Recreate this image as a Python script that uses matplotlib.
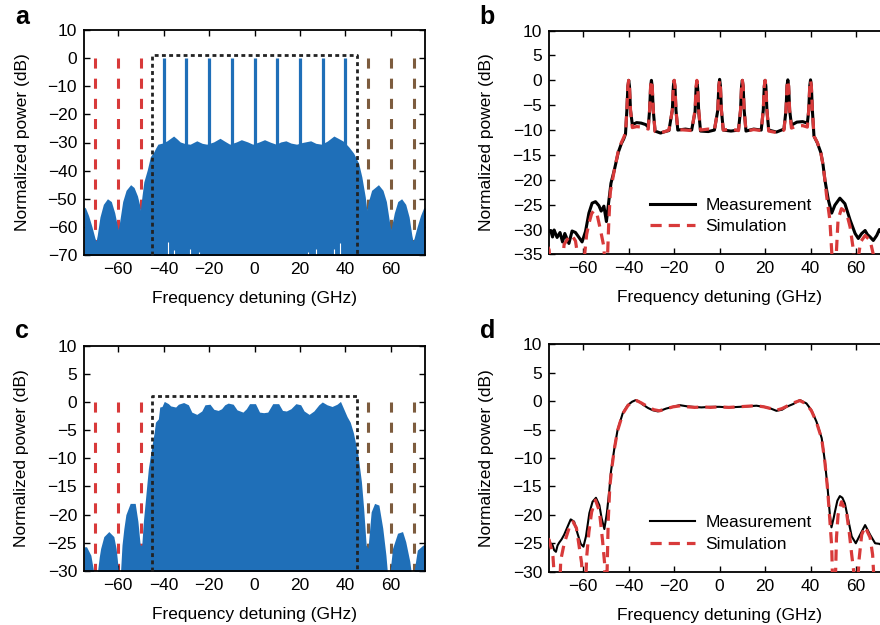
import numpy as np
import matplotlib
matplotlib.use("Agg")
import matplotlib.pyplot as plt

plt.rcParams["font.family"] = ["Liberation Sans", "DejaVu Sans"]
plt.rcParams["font.size"] = 12.5

# ---- panel a: spectrum envelope (GHz, dB) ----
a_freq = [-75, -74.5, -73, -71.5, -70.2, -69.7, -69.2, -68, -66.5, -64.7, -63, -61.5,
          -60.5, -60, -59.5, -58, -56.5, -54.5, -53, -51.5, -50.6, -50.2, -49.5, -48.7,
          -47.2, -45.8, -44.3, -43.5, -42.5, -40.5, -38.5, -35.6, -34, -32.7, -30.5,
          -28.3, -25.4, -23, -21, -18, -15.2, -13, -10.9, -8, -5.8, -3, -0.8, 2, 4.4,
          7, 9.5, 11.5, 13.8, 16, 18.5, 21, 24.7, 27, 29.5, 32, 34.9, 37, 39, 41.4,
          43.6, 45.8, 47.2, 48.7, 49.4, 50.1, 51.5, 53, 54.5, 56.5, 58, 59.5, 60, 60.5,
          61.5, 63, 64.7, 66.5, 68, 69.2, 69.7, 70.2, 71.5, 73, 74.5, 75]
a_env = [-53.5, -53, -56, -60, -64, -65, -63, -56.5, -52, -50, -51, -55,
         -59, -61, -59, -51, -47, -45, -46, -49, -52, -54, -49, -44,
         -39.8, -35, -33.3, -32, -30.6, -30.2, -29.4, -27.7, -28.8, -29.8, -30.4,
         -30.6, -29.4, -30.3, -30.6, -29.8, -28.5, -29.6, -30.6, -29.8, -29, -29.8, -30.6, -29.8, -29,
         -29.9, -30.6, -29.8, -29.4, -30.2, -30.6, -30, -29.4, -30.3, -30.6, -29.5, -27.7, -28.6, -29.5, -31.5,
         -33.8, -37.4, -42.2, -49.3, -54, -51, -47, -46, -45, -47, -51, -59, -61, -59,
         -55, -51, -50, -52, -56.5, -63, -65, -64, -60, -56, -53, -53.5]
comb_freq = [-40, -30, -20, -10, 0, 10, 20, 30, 40]
a_notch_freq = [-38.2, -35.6, -28.3, -24.6, 23.7, 27.2, 34.9, 37.5]
a_notch_top = [-65.5, -68.2, -68, -69, -69, -68, -68, -65.8]

# ---- panel c: spectrum envelope (GHz, dB) ----
c_freq = [-75, -73.9, -72, -70.6, -69.2, -68.3, -67.7, -66.3, -64.1, -61.9, -60.9, -60.4,
          -59.8, -59, -58.3, -57.5, -56.6, -54.7, -52.5, -51.3, -50.3, -49.6, -48.9, -47.8,
          -46.7, -45.2, -44.1, -43.6, -42.3, -41.7, -40.7, -39.7, -38.8, -37.9, -36.9, -34.7,
          -33.5, -31.2, -29.1, -27.6, -25.4, -23.2, -21.8, -19.6, -17.9, -16, -14.5, -13.1,
          -11.6, -9.4, -7.7, -5.1, -3.6, -2.2, 0.4, 2.2, 4, 5.8, 8, 10.6, 12.3, 14, 16,
          18.2, 20.3, 21.8, 24, 26.1, 28.3, 29.8, 31.9, 34.1, 36.3, 37.8, 39.2, 40.7, 42.1,
          43.5, 45.5, 47, 48, 49.1, 49.9, 51.3, 52.8, 54.7, 56.4, 57.8, 58.5, 59.5, 60.7,
          62.9, 65.1, 66.5, 68.3, 69, 70, 71.6, 74.1, 75]
c_env = [-25.7, -25.7, -27.2, -30.5, -30.5, -27.5, -26, -23.9, -23, -23.9, -26, -27.8,
         -30.5, -30.5, -25.4, -22.5, -20, -18, -18, -21.2, -25.4, -25.4, -21.2, -16.5,
         -11.8, -7.9, -5.3, -3.6, -3.0, -0.9, -0.8, 0.1, -0.1, -0.3, -0.7, -0.9,
         -0.4, -0.1, -0.5, -1.8, -2.2, -1.6, -0.5, -0.4, -1.3, -1.5, -1.2, -0.5,
         -0.2, -0.4, -1.4, -1.8, -1.2, -0.3, -0.3, -1.8, -1.9, -1.8, -0.3, -0.3, -1.5, -1.6, -1.2,
         -0.3, -0.5, -1.6, -2.2, -1.6, -0.5, 0, -0.5, -0.8, -0.4, 0.1, -1.2, -2.6, -3.6,
         -5.5, -9.4, -14.1, -18.9, -25.4, -26, -19.5, -18, -18.3, -22.4, -27.2, -30.5, -30.5, -26,
         -23.3, -23, -24.8, -28.3, -30.5, -30.5, -26.3, -25.4, -25.4]

# ---- panel b: measurement and simulation (GHz, dB) ----
b_meas_f = [-75, -74.3, -73.5, -72.8, -71.5, -70.2, -69.1, -68.1, -66.3, -64.9, -63.4, -62,
            -60.5, -59, -57.5, -56.1, -54.6, -53.1, -52.1, -50.9, -49.8, -48.8, -47.8, -46.3,
            -44.6, -43.2, -42.2, -41.4,
            -40.8, -40.35, -40, -39.65, -39.2, -38.4, -36.5, -34.5, -32.5, -31.4,
            -30.8, -30.35, -30, -29.65, -29.2, -28.4, -26, -24, -22.3,
            -20.8, -20.35, -20, -19.65, -19.2, -18.4, -15, -12.3,
            -10.8, -10.35, -10, -9.65, -9.2, -8.4, -5, -2.3,
            -0.8, -0.35, 0, 0.35, 0.8, 1.6, 5, 8.3,
            9.2, 9.65, 10, 10.35, 10.8, 11.6, 15, 18.3,
            19.2, 19.65, 20, 20.35, 20.8, 21.6, 25, 28.3,
            29.2, 29.65, 30, 30.35, 30.8, 31.6, 34, 36.5, 38.6,
            39.2, 39.65, 40, 40.35, 40.8,
            41.5, 43, 44.5, 45.5, 46.3, 47.8, 49.3, 50.7, 52.9, 55.1, 57.4, 59.6, 61,
            62.5, 64, 65, 66.2, 67.6, 69.1, 70.3, 72, 73.5, 75]
b_meas_db = [-30.3, -30.2, -31.5, -30.1, -31.6, -30.6, -32.5, -30.8, -32.8, -30.3, -30.6, -31.5,
             -32.5, -30.4, -26.7, -24.7, -24.4, -25.2, -26.3, -25.3, -28.4, -24.5, -20.7, -18,
             -14.5, -12.7, -11.8, -10.8,
             -6, -1.2, 0, -1.2, -6, -8.9, -8.5, -8.6, -8.9, -9.4,
             -6, -1.2, 0, -1.2, -6, -10.2, -10.6, -10.3, -10.1,
             -6, -1.2, 0, -1.2, -6, -10, -9.8, -10,
             -6.3, -1.6, -0.4, -1.6, -6.3, -10.2, -10.3, -10,
             -6, -1.1, 0.2, -1.1, -6, -10, -10.2, -10,
             -6, -1.2, 0, -1.2, -6, -10.2, -9.8, -10,
             -6, -1.2, 0, -1.2, -6, -10, -10.4, -9.8,
             -6, -1.1, 0.1, -1.1, -6, -9, -8.4, -8.3, -8.6,
             -6, -1.1, 0.1, -1.1, -6,
             -11.2, -12.6, -14.5, -17, -20, -24, -26.7, -25.1, -23.7, -24.8, -28.1, -30.8, -31.8,
             -30.8, -30.2, -31, -31.5, -32.2, -31.2, -30, -31, -30.5, -31]

b_sim_f = [-75.5, -75, -74.2, -72, -69.8, -68.4, -66.3, -64.9, -63.4, -62.2, -61, -59.8,
           -58.5, -57.5, -56.3, -55.3, -53.8, -52.4, -50.9, -50.2, -49.5, -48.8, -48.1, -46.3,
           -44.6, -43.2, -42.2, -41.4,
           -40.8, -40.35, -40, -39.65, -39.2, -38.4, -36.5, -34.5, -32.5, -31.4,
           -30.8, -30.35, -30, -29.65, -29.2, -28.4, -26.5, -24, -22.3,
           -20.8, -20.35, -20, -19.65, -19.2, -18.4, -15, -12.3,
           -10.8, -10.35, -10, -9.65, -9.2, -8.4, -5, -2.3,
           -0.8, -0.35, 0, 0.35, 0.8, 1.6, 5, 8.3,
           9.2, 9.65, 10, 10.35, 10.8, 11.6, 15, 18.3,
           19.2, 19.65, 20, 20.35, 20.8, 21.6, 25, 28.3,
           29.2, 29.65, 30, 30.35, 30.8, 31.6, 34, 36.5, 38.6,
           39.2, 39.65, 40, 40.35, 40.8,
           41.5, 43, 44.5, 45.5, 46.3, 47, 48.5, 49.5, 50.2, 51.2, 52.1, 53.6, 55.8,
           57.4, 58.8, 59.6, 60.6, 62, 64, 66.2, 67.6, 68.4, 70, 72, 73.5, 75]
b_sim_db = [-33.5, -34.1, -40, -50, -40, -33, -31.5, -31.2, -32.3, -36, -50, -37,
            -31, -28.8, -26.8, -26.2, -27.2, -30.1, -33.5, -40, -38, -29, -22.5, -18,
            -14.3, -12.5, -11.5, -10.6,
            -6, -1.2, 0, -1.2, -6, -9.5, -9.3, -9.4, -9.6, -9.8,
            -6, -1.2, 0, -1.2, -6, -10.3, -10.6, -10.3, -10,
            -6, -1.2, 0, -1.2, -6, -9.9, -10, -10.1,
            -6, -1.2, 0, -1.2, -6, -10, -9.8, -10,
            -6, -1.2, 0, -1.2, -6, -10, -9.8, -10.1,
            -6, -1.2, 0, -1.2, -6, -10.2, -9.9, -10.1,
            -6, -1.2, 0, -1.2, -6, -10.2, -10.5, -10,
            -6, -1.2, 0, -1.2, -6, -9.6, -9.2, -9.1, -9.4,
            -6, -1.2, 0, -1.2, -6,
            -11.2, -12.5, -14.5, -17, -20, -23, -28.1, -36, -50, -36, -28, -25.8, -26.6,
            -29.5, -34, -50, -37, -32.5, -31.2, -32.2, -35, -45, -50, -40, -35, -34]

# ---- panel d: measurement and simulation (GHz, dB) ----
d_meas_f = [-75.7, -74.5, -73.5, -72.8, -72, -71.3, -70.6, -69.5, -68.4, -66.9, -65.5, -64,
            -62.5, -61.1, -59.9, -58.8, -57.3, -55.9, -54.4, -52.9, -51.9, -50.7, -49.6, -48.5,
            -47.8, -46.3, -44.9, -42.6, -40.4, -38.5, -36.8, -35, -33.8, -31.5, -29.4, -27.2,
            -25.5, -23.5, -20.5, -17.6, -14.5, -11.8, -8, -4, 0, 4, 8.8, 12.5, 16.2, 19.5,
            22.5, 25, 27.5, 29.4, 32.4, 35.3, 38.2, 40.4, 42.6, 44.9, 46.3, 47.5, 48.5, 49.2,
            50.2, 50.7, 51.8, 52.9, 54, 55.1, 56.6, 58.1, 59.9, 61.8, 64, 66.2, 68.4, 70.3,
            72, 75]
d_meas_db = [-24.4, -25, -25.3, -26.2, -26.5, -25.4, -24.9, -24.3, -23.5, -22.1, -20.8, -21.2,
             -23.3, -25.1, -25.6, -23.8, -19.7, -17.7, -17, -18.3, -20.6, -22.5, -19.7, -15.6,
             -12.4, -8.3, -5.1, -2.1, -0.7, -0.1, 0.2, -0.2, -0.6, -1.2, -1.6, -1.8,
             -1.6, -1.3, -1.0, -0.7, -0.9, -1.0, -1.1, -1.0, -1.0, -1.1, -1.0, -0.9, -0.8, -1.0,
             -1.3, -1.7, -1.5, -1.0, -0.5, 0.2, -0.4, -1.6, -3.6, -6.5, -10.6, -15.3, -20, -22.2,
             -20.5, -19.5, -17.5, -16.7, -17, -18, -20.9, -23.8, -25, -23.5, -21.8, -23.5, -25, -25.1,
             -25.5, -25]

d_sim_f = [-75.5, -75, -74, -73.3, -72, -70.5, -69.9, -68.4, -66.2, -64.5, -63, -61.8,
           -60.7, -60.2, -59.2, -58.5, -57.5, -56.3, -54.6, -52.9, -51.5, -50.6, -50.2, -49.5,
           -49, -48.3, -47.5, -46.3, -44.9, -42.6, -40.4, -38.5, -36.5, -34.5, -31.5, -29,
           -26.5, -24, -20.5, -17, -14, -11, -7.5, -4, 0, 4, 8, 12, 16, 19.5, 22.5, 25,
           27.5, 30, 32.5, 35.3, 38.2, 40.4, 42.6, 44.9, 46.3, 47.5, 48.5, 49.3, 49.9, 50.7,
           51.4, 52.1, 53.6, 55.8, 57, 58.1, 59.3, 60.3, 61.3, 62.5, 64, 66.2, 67.3, 68.4,
           70, 72, 75]
d_sim_db = [-24.2, -24.4, -26, -27.4, -35, -35, -28, -25.1, -22.3, -21.2, -22.3, -25.5,
            -28.5, -35, -35, -27.5, -23, -19.5, -17.4, -19.3, -24.5, -28.5, -35, -30,
            -21, -15, -12, -8.4, -5.2, -2.2, -0.8, -0.1, 0.1, -0.3, -1.0, -1.5,
            -1.7, -1.4, -1.0, -0.8, -1.0, -1.1, -1.0, -1.1, -1.0, -1.1, -1.0, -0.9, -0.8, -1.0, -1.3, -1.6,
            -1.3, -0.8, -0.3, 0.1, -0.5, -1.7, -3.7, -6.6, -10.7, -15.5, -21, -25.5, -35, -35,
            -24, -20, -17.7, -19.5, -23, -27, -31, -35, -28, -23.5, -22.1, -24, -27, -35,
            -35, -27, -25]

red_marks = [-70, -60, -50]
brown_marks = [50, 60, 70]
box_lo, box_hi, box_top = -45, 45, 1.0

BLUE = "#1f6fb8"
RED = "#d83a3a"
BROWN = "#7d5c3e"


def style_axes(ax, ylim, yticks):
    ax.set_xlim(-75, 75)
    ax.set_ylim(*ylim)
    ax.set_xticks([-60, -40, -20, 0, 20, 40, 60])
    ax.set_yticks(yticks)
    ax.tick_params(direction="in", top=True, right=True, length=4, width=1,
                   labelsize=12.5, pad=5)
    for s in ax.spines.values():
        s.set_linewidth(1.3)
    ax.set_xlabel("Frequency detuning (GHz)", fontsize=12.5, labelpad=10)
    ax.set_ylabel("Normalized power (dB)", fontsize=12.5, labelpad=13)


def spectrum_panel(ax, freq, env, bottom, ylim, yticks, comb=False):
    for f in red_marks:
        ax.plot([f, f], [0, bottom], color=RED, lw=2.2, dashes=(3.3, 3.3), zorder=1)
    for f in brown_marks:
        ax.plot([f, f], [0, bottom], color=BROWN, lw=2.2, dashes=(3.3, 3.3), zorder=1)
    ax.fill_between(freq, bottom - 5, env, color=BLUE, lw=0, zorder=2)
    if comb:
        ax.vlines(comb_freq, bottom, 0, color=BLUE, lw=2.3, zorder=2)
        ax.vlines(a_notch_freq, bottom, a_notch_top, color="white", lw=0.8, zorder=2.5)
    ax.plot([box_lo, box_lo, box_hi, box_hi], [bottom, box_top, box_top, bottom],
            color="#222222", lw=2, dashes=(1.4, 1.2), zorder=3, clip_on=False)
    style_axes(ax, ylim, yticks)


def compare_panel(ax, mf, md, sf, sd, ylim, yticks, mlw):
    ax.plot(mf, md, color="black", lw=mlw, label="Measurement", zorder=2)
    ax.plot(sf, sd, color=RED, lw=2.3, dashes=(3.5, 2.2), label="Simulation", zorder=3)
    style_axes(ax, ylim, yticks)
    ax.legend(loc="lower left", bbox_to_anchor=(0.26, 0.035), frameon=False, fontsize=12.5,
              handlelength=2.6, handletextpad=0.6, labelspacing=0.35, borderpad=0.2)


fig = plt.figure(figsize=(8.8, 6.25), dpi=100)
ax_a = fig.add_axes([0.0955, 0.592, 0.3875, 0.36])
ax_b = fig.add_axes([0.624, 0.593, 0.3875, 0.358])
ax_c = fig.add_axes([0.0955, 0.0864, 0.3875, 0.3606])
ax_d = fig.add_axes([0.624, 0.0853, 0.3875, 0.3638])

spectrum_panel(ax_a, a_freq, a_env, -70, (-70, 10), np.arange(-70, 11, 10), comb=True)
spectrum_panel(ax_c, c_freq, c_env, -30, (-30, 10), np.arange(-30, 11, 5))
compare_panel(ax_b, b_meas_f, b_meas_db, b_sim_f, b_sim_db, (-35, 10), np.arange(-35, 11, 5), 2.2)
compare_panel(ax_d, d_meas_f, d_meas_db, d_sim_f, d_sim_db, (-30, 10), np.arange(-30, 11, 5), 1.5)

for letter, x, y in [("a", 0.017, 0.972), ("b", 0.545, 0.972), ("c", 0.017, 0.47), ("d", 0.545, 0.47)]:
    fig.text(x, y, letter, fontsize=18, fontweight="bold", va="center", ha="left")

fig.savefig("out.png", dpi=100)
